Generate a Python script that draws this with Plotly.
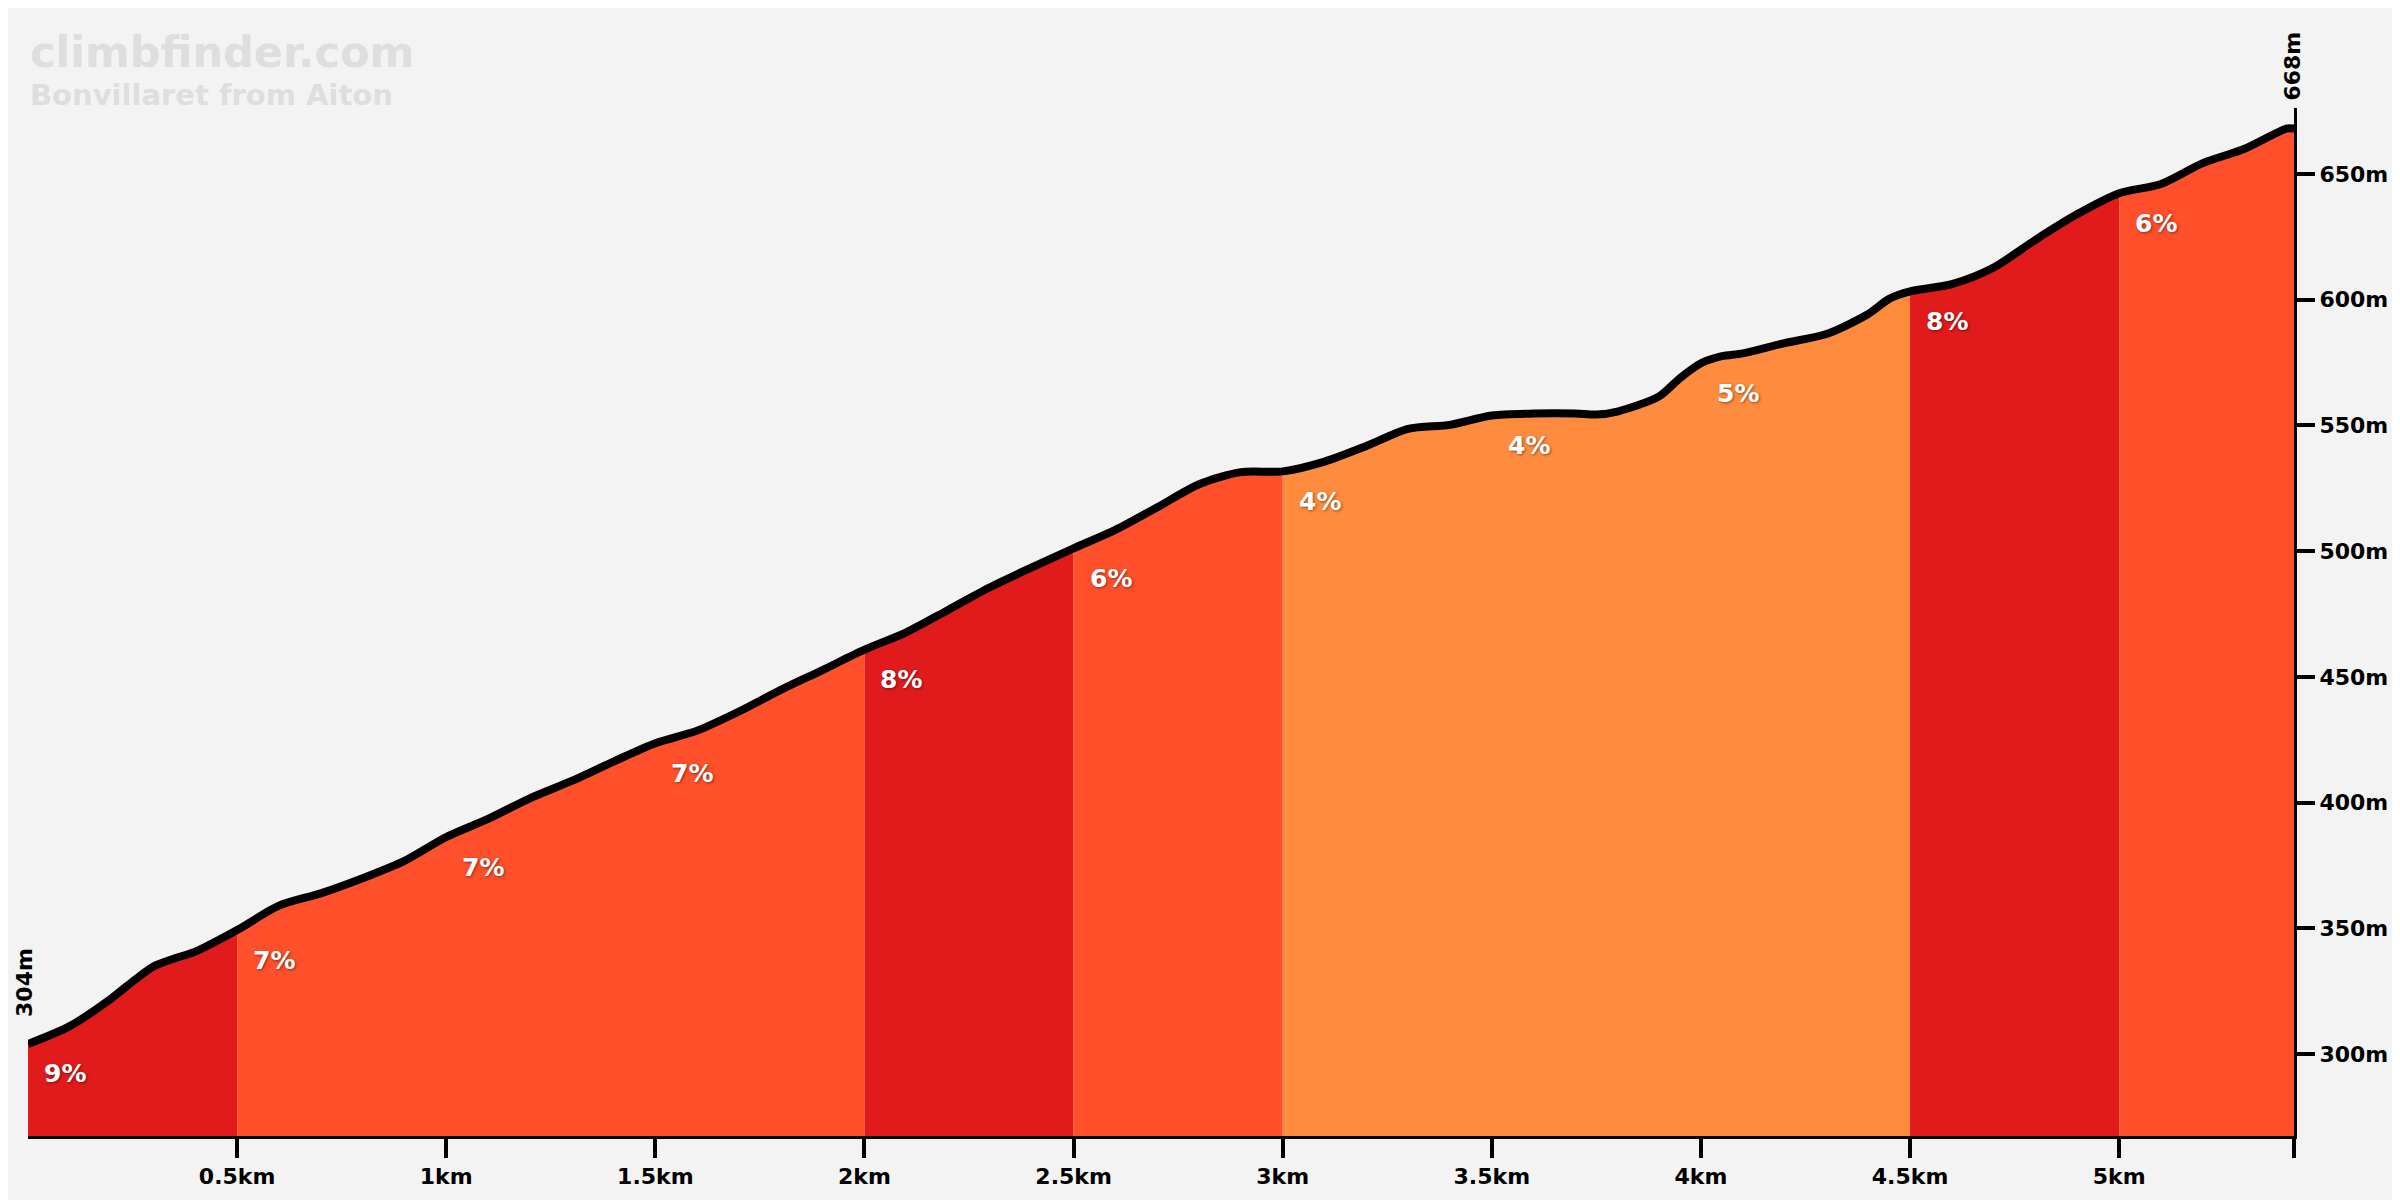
import numpy as np
import plotly.graph_objects as go

# elevation profile
km = [0, 0.1, 0.2, 0.25, 0.3, 0.35, 0.4, 0.5, 0.6, 0.7, 0.8, 0.9, 1.0, 1.1, 1.2, 1.3, 1.4, 1.5, 1.6, 1.7, 1.8, 1.9,
      2.0, 2.1, 2.2, 2.3, 2.4, 2.5, 2.6, 2.7, 2.8, 2.9, 3.0, 3.1, 3.2, 3.3, 3.4, 3.5, 3.6, 3.7, 3.75, 3.8, 3.9, 3.95,
      4.0, 4.05, 4.1, 4.2, 4.3, 4.4, 4.45, 4.5, 4.6, 4.7, 4.8, 4.9, 5.0, 5.1, 5.2, 5.3, 5.4, 5.418]
elevation = [304, 311.1, 322.2, 328.8, 334.8, 338, 340.7, 349.3, 359, 363.9, 369.9, 376.8, 386.3, 393.5, 401.7, 408.6,
             416.3, 423.6, 428.6, 436.2, 444.8, 452.7, 460.8, 467.7, 476.6, 485.6, 493.5, 501.1, 508.4, 517.4, 526.6,
             531.4, 531.7, 535.6, 541.8, 548.6, 550.2, 553.9, 554.7, 554.7, 554.3, 555.5, 561.5, 568.8,
             574.7, 577.5, 578.6, 582.7, 586.3, 594.3, 600.3, 603.3, 606.2, 612.8, 623.8, 634, 642.3, 646, 654.3, 660,
             668, 668]

segment_edges = [0, 0.5, 2, 2.5, 3, 4.5, 5, 5.418]
segment_colors = ["#e11b1c", "#ff502b", "#e11b1c", "#ff502b", "#ff8c3e", "#e11b1c", "#ff502b"]

gradient_km = [0, 0.5, 1, 1.5, 2, 2.5, 3, 3.5, 4, 4.5, 5]
gradient_text = ["9%", "7%", "7%", "7%", "8%", "6%", "4%", "4%", "5%", "8%", "6%"]

x_ticks = [0.5, 1, 1.5, 2, 2.5, 3, 3.5, 4, 4.5, 5, 5.418]
x_labels = ["0.5km", "1km", "1.5km", "2km", "2.5km", "3km", "3.5km", "4km", "4.5km", "5km", ""]
y_ticks = [300, 350, 400, 450, 500, 550, 600, 650]
y_labels = ["300m", "350m", "400m", "450m", "500m", "550m", "600m", "650m"]

start_label = "304m"
end_label = "668m"

FONT = "DejaVu Sans"
km_arr = np.array(km)
ele_arr = np.array(elevation)

fig = go.Figure()

for i, col in enumerate(segment_colors):
    mask = (km_arr >= segment_edges[i]) & (km_arr <= segment_edges[i + 1])
    fig.add_trace(go.Scatter(x=km_arr[mask], y=ele_arr[mask], mode="lines", fill="tozeroy", fillcolor=col,
                             line=dict(width=0, color=col), hoverinfo="skip", showlegend=False))

fig.add_trace(go.Scatter(x=km, y=elevation, mode="lines", cliponaxis=False,
                         line=dict(color="black", width=8, shape="spline", smoothing=0.8),
                         hoverinfo="skip", showlegend=False))

for k, t in zip(gradient_km, gradient_text):
    fig.add_annotation(x=k, y=float(np.interp(k, km, elevation)), text=t, showarrow=False, xanchor="left",
                       xshift=14, yshift=-30,
                       font=dict(family=FONT, size=25, weight=700, color="white",
                                 shadow="1px 1px 3px rgba(0,0,0,0.45)"))

# start and end height, written upright above the line
fig.add_annotation(x=km[0], y=elevation[0], text=start_label, textangle=-90, showarrow=False, xshift=-3, yshift=61,
                   font=dict(family=FONT, size=22, weight=700, color="black"))
fig.add_annotation(x=km[-1], y=elevation[-1], text=end_label, textangle=-90, showarrow=False, xshift=-1, yshift=62,
                   font=dict(family=FONT, size=22, weight=700, color="black"))
fig.add_shape(type="line", xref="x", yref="y", xsizemode="pixel", xanchor=km[0], x0=-2, x1=-2, y0=elevation[0],
              y1=elevation[0] + 7, line=dict(color="black", width=3))

# watermark
fig.add_annotation(xref="paper", yref="paper", x=0, y=1, xanchor="left", yanchor="middle", yshift=56,
                   text="climbfinder.com", showarrow=False,
                   font=dict(family=FONT, size=43, weight=700, color="#dedede"))
fig.add_annotation(xref="paper", yref="paper", x=0, y=1, xanchor="left", yanchor="middle", yshift=13,
                   text="Bonvillaret from Aiton", showarrow=False,
                   font=dict(family=FONT, size=29, weight=700, color="#dedede"))

fig.update_xaxes(range=[0, 5.418], tickmode="array", tickvals=x_ticks, ticktext=x_labels, ticks="outside",
                 ticklen=19, tickwidth=4, tickcolor="black", showline=True, linecolor="black", linewidth=3,
                 showgrid=False, zeroline=False, tickfont=dict(family=FONT, size=22, weight=700, color="black"))
fig.update_yaxes(range=[267.4, 676.2], side="right", tickmode="array", tickvals=y_ticks, ticktext=y_labels,
                 ticks="outside", ticklen=18, tickwidth=4, tickcolor="black", showline=True, linecolor="black",
                 linewidth=3, showgrid=False, zeroline=False,
                 tickfont=dict(family=FONT, size=22, weight=700, color="black"))
fig.update_layout(width=2400, height=1200, margin=dict(l=20, r=114, t=100, b=72), plot_bgcolor="#f3f3f3",
                  paper_bgcolor="#f3f3f3", showlegend=False)

fig.write_html("out.html")
